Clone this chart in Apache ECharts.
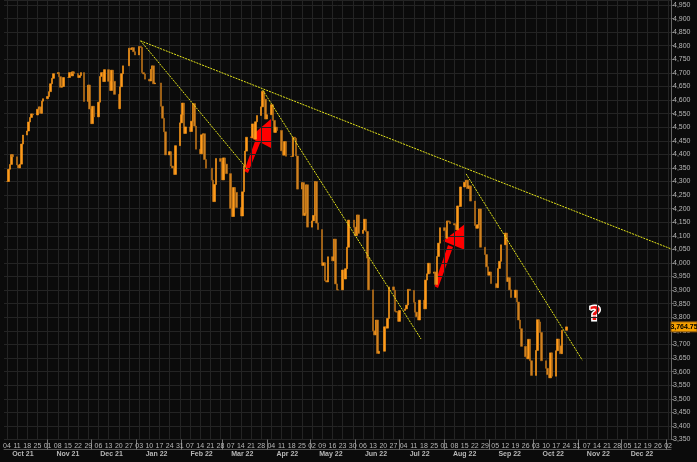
<!DOCTYPE html>
<html><head><meta charset="utf-8">
<script src="https://cdn.jsdelivr.net/npm/echarts@6/dist/echarts.min.js"></script>
<style>html,body{margin:0;padding:0;background:#0b0b0b}#c{width:697px;height:462px}</style>
</head><body><div id="c"></div>
<script>
// daily closes, "day:close" per month
const closesByMonth = {
 "2021-10":"4:4300 5:4345 6:4363 7:4399 8:4391 11:4361 12:4350 13:4364 14:4438 15:4471 18:4486 19:4519 20:4536 21:4549 22:4545 25:4566 26:4575 27:4551 28:4596 29:4605",
 "2021-11":"1:4613 2:4631 3:4660 4:4680 5:4697 8:4701 9:4686 10:4647 11:4650 12:4683 15:4683 16:4701 17:4689 18:4704 19:4698 22:4683 23:4690 24:4701 26:4595 29:4655 30:4567",
 "2021-12":"1:4513 2:4577 3:4538 6:4592 7:4687 8:4701 9:4668 10:4712 13:4669 14:4635 15:4710 16:4669 17:4621 20:4568 21:4649 22:4697 23:4726 27:4791 28:4786 29:4793 30:4778 31:4766",
 "2022-01":"3:4797 4:4794 5:4701 6:4696 7:4677 10:4670 11:4713 12:4726 13:4660 14:4663 18:4577 19:4533 20:4483 21:4398 24:4410 25:4357 26:4350 27:4326 28:4432 31:4516",
 "2022-02":"1:4546 2:4589 3:4477 4:4501 7:4484 8:4522 9:4587 10:4504 11:4419 14:4402 15:4472 16:4476 17:4381 18:4349 22:4305 23:4226 24:4289 25:4385 28:4374",
 "2022-03":"1:4306 2:4387 3:4364 4:4329 7:4201 8:4171 9:4278 10:4260 11:4204 14:4173 15:4262 16:4358 17:4412 18:4463 21:4461 22:4512 23:4456 24:4520 25:4543 28:4575 29:4632 30:4603 31:4530",
 "2022-04":"1:4546 4:4583 5:4525 6:4481 7:4500 8:4488 11:4413 12:4397 13:4447 14:4393 18:4392 19:4463 20:4459 21:4394 22:4272 25:4296 26:4175 27:4183 28:4288 29:4132",
 "2022-05":"2:4155 3:4175 4:4300 5:4147 6:4123 9:3991 10:4001 11:3935 12:3930 13:4023 16:4008 17:4088 18:3923 19:3901 20:3901 23:3974 24:3941 25:3979 26:4058 27:4158 31:4132",
 "2022-06":"1:4101 2:4177 3:4109 6:4121 7:4161 8:4116 9:4018 10:3901 13:3750 14:3735 15:3790 16:3667 17:3675 21:3765 22:3760 23:3796 24:3912 27:3900 28:3822 29:3819 30:3785",
 "2022-07":"1:3825 5:3831 6:3845 7:3903 8:3899 11:3855 12:3819 13:3802 14:3790 15:3863 18:3831 19:3937 20:3960 21:3999 22:3962 25:3967 26:3921 27:4024 28:4073 29:4130",
 "2022-08":"1:4119 2:4091 3:4155 4:4152 5:4145 8:4140 9:4122 10:4210 11:4208 12:4280 15:4297 16:4305 17:4274 18:4284 19:4228 22:4138 23:4128 24:4141 25:4199 26:4058 29:4031 30:3986 31:3955",
 "2022-09":"1:3967 2:3924 6:3909 7:3980 8:4006 9:4067 12:4110 13:3932 14:3946 15:3901 16:3873 19:3900 20:3856 21:3790 22:3758 23:3693 26:3655 27:3647 28:3719 29:3640 30:3586",
 "2022-10":"3:3678 4:3791 5:3783 6:3744 7:3640 10:3612 11:3589 12:3577 13:3669 14:3583 17:3677 18:3720 19:3695 20:3666 21:3752 24:3764.75"
};
const axisStart = "2021-10-02", axisEnd = "2023-01-04";
const lastPrice = 3764.75;
const trendTop = [["2022-01-04",4818],["2023-01-04",4052]];
const trend1 = [["2022-01-04",4818],["2022-03-19",4342]];
const trend2 = [["2022-03-29",4637],["2022-07-16",3720]];
const trend3 = [["2022-08-16",4328],["2022-11-04",3642]];
const monthNames = ["Jan","Feb","Mar","Apr","May","Jun","Jul","Aug","Sep","Oct","Nov","Dec"];

function pad(n){return (n<10?"0":"")+n;}
const cats=[];
for(let d=new Date(axisStart+"T12:00:00Z"); d<=new Date(axisEnd+"T12:00:00Z"); d=new Date(d.getTime()+86400000)){
  cats.push(d.getUTCFullYear()+"-"+pad(d.getUTCMonth()+1)+"-"+pad(d.getUTCDate()));
}
const closeMap={};
Object.keys(closesByMonth).forEach(m=>{
  closesByMonth[m].split(" ").forEach(p=>{const [d,c]=p.split(":");closeMap[m+"-"+pad(+d)]=+c;});
});
let prev=null;
const candles=cats.map(k=>{
  if(closeMap[k]===undefined) return '-';
  const c=closeMap[k], o=prev===null?c:prev; prev=c;
  return [o,c,Math.min(o,c),Math.max(o,c)];
});
function dow(k){return new Date(k+"T12:00:00Z").getUTCDay();}
const isMon=(i)=>dow(cats[i])===1;
const isMonthStart=(i)=>cats[i].slice(8)==="01";
const isMid=(i)=>cats[i].slice(8)==="15";
const lab={color:'#b8b8b8',fontSize:7,fontFamily:'Liberation Sans'};

const chart=echarts.init(document.getElementById('c'));
const lineS=(d)=>({type:'line',data:d,symbol:'none',xAxisIndex:0,lineStyle:{color:'#e6e61a',width:1,type:[2,1]},z:5,animation:false});
chart.setOption({
  backgroundColor:'#0b0b0b',animation:false,
  grid:{left:0,right:26,top:0,bottom:22.5},
  xAxis:[{type:'category',data:cats,boundaryGap:false,
    axisLine:{show:false},axisTick:{show:false},
    axisLabel:Object.assign({interval:(i)=>isMon(i),formatter:v=>v.slice(8),margin:3},lab),
    splitLine:{show:true,interval:(i)=>isMon(i),lineStyle:{color:'#242424',width:1}}},
   {type:'category',data:cats,boundaryGap:false,position:'bottom',offset:10,
    axisLine:{show:true,lineStyle:{color:'#555'}},
    axisTick:{show:true,interval:(i)=>isMonthStart(i),length:-10,lineStyle:{color:'#777'}},
    axisLabel:Object.assign({interval:(i)=>isMid(i),margin:1,fontWeight:'bold',
      formatter:v=>monthNames[+v.slice(5,7)-1]+" "+v.slice(2,4)},lab),
    splitLine:{show:false}}],
  yAxis:{type:'value',position:'right',min:3350,max:4968.4,interval:50,scale:true,
    axisLine:{show:true,lineStyle:{color:'#666'}},axisTick:{show:true,length:3,lineStyle:{color:'#666'}},
    axisLabel:Object.assign({showMaxLabel:false,margin:2,formatter:v=>v.toLocaleString('en-US')},lab),
    splitLine:{lineStyle:{color:'#242424'}}},
  series:[
    {type:'candlestick',data:candles,barWidth:2,
     itemStyle:{color:'#ff9a1a',color0:'#d08220',borderColor:'#ff9a1a',borderColor0:'#b86e16',borderWidth:0.6}},
    lineS(trendTop),lineS(trend1),lineS(trend2),lineS(trend3)
  ],
  graphic:[
    {type:'rect',shape:{x:380,y:54,width:27,height:18},style:{fill:'transparent',stroke:'#8a5812',lineWidth:1}},
    {type:'text',x:393.5,y:63,style:{text:'SPX',fill:'#c87a1a',font:'9px Liberation Sans',align:'center',verticalAlign:'middle'}},
    {type:'polygon',shape:{points:[[244,171],[248,173],[262,138],[257,136]]},style:{fill:'#ff0000'}},
    {type:'polygon',shape:{points:[[250,137],[271,119],[271,148]]},style:{fill:'#ff0000'}},
    {type:'polygon',shape:{points:[[434,286],[438,288],[453,247],[448,245]]},style:{fill:'#ff0000'}},
    {type:'polygon',shape:{points:[[443,241],[465,224],[465,250]]},style:{fill:'#ff0000'}},
    {type:'text',x:595,y:315,style:{text:'?',fill:'#ee1111',stroke:'#ffffff',lineWidth:3,font:'bold 20px DejaVu Sans',align:'center',verticalAlign:'middle'}}
  ]
});
const py=chart.convertToPixel({yAxisIndex:0},lastPrice);
chart.setOption({graphic:[{type:'rect',shape:{x:671,y:py-5,width:26,height:10},style:{fill:'#f5a000'},z:100},
 {type:'text',x:684,y:py,style:{text:'3,764.75',fill:'#000',font:'bold 7px Liberation Sans',align:'center',verticalAlign:'middle'},z:101}]});
</script></body></html>
